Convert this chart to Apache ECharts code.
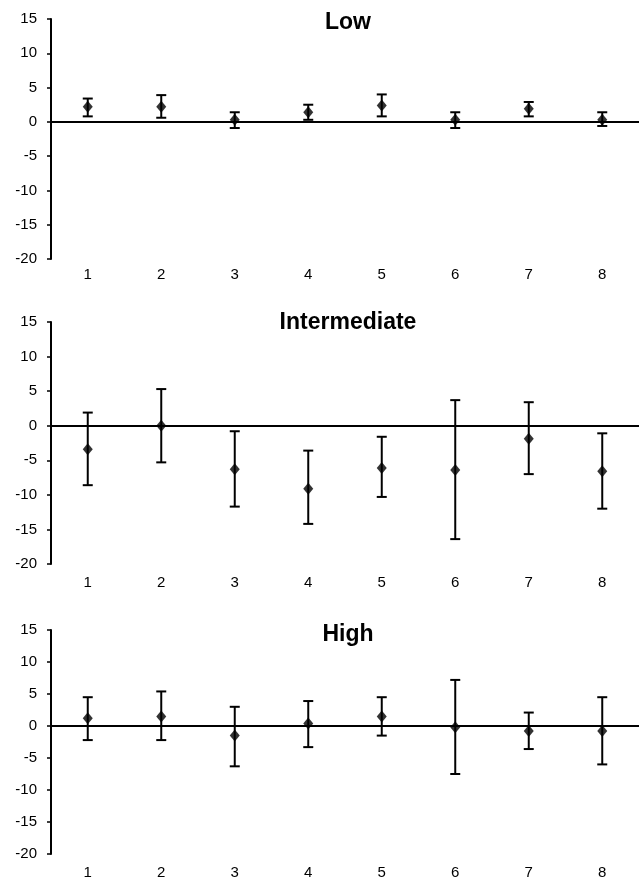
<!DOCTYPE html>
<html>
<head>
<meta charset="utf-8">
<script src="https://cdn.jsdelivr.net/npm/echarts@6/dist/echarts.min.js"></script>
<style>
  html, body { margin: 0; padding: 0; background: #fff; }
  #chart { width: 639px; height: 880px; }
</style>
</head>
<body>
<div id="chart"></div>
<script>
// categories and tick labels
const categories = ["1", "2", "3", "4", "5", "6", "7", "8"];
const panelTitles = ["Low", "Intermediate", "High"];

// Low
const lowMean = [2.2, 2.2, 0.3, 1.4, 2.4, 0.3, 1.9, 0.3];
const lowLower = [0.8, 0.6, -0.9, 0.3, 0.8, -0.9, 0.8, -0.6];
const lowUpper = [3.4, 3.9, 1.4, 2.5, 4.0, 1.4, 2.9, 1.4];

// Intermediate
const midMean = [-3.4, 0.0, -6.3, -9.1, -6.1, -6.4, -1.9, -6.6];
const midLower = [-8.6, -5.3, -11.7, -14.2, -10.3, -16.4, -7.0, -12.0];
const midUpper = [1.9, 5.3, -0.8, -3.6, -1.6, 3.7, 3.4, -1.1];

// High
const highMean = [1.2, 1.5, -1.5, 0.4, 1.5, -0.2, -0.8, -0.8];
const highLower = [-2.2, -2.2, -6.3, -3.3, -1.5, -7.5, -3.6, -6.0];
const highUpper = [4.5, 5.4, 3.0, 3.9, 4.5, 7.2, 2.1, 4.5];

const panels = [
  { mean: lowMean, lower: lowLower, upper: lowUpper, top: 19, height: 240, titleTop: 11 },
  { mean: midMean, lower: midLower, upper: midUpper, top: 322, height: 242, titleTop: 311 },
  { mean: highMean, lower: highLower, upper: highUpper, top: 630, height: 226, titleTop: 623 },
];

const font = "Liberation Sans";

function renderErrorBar(params, api) {
  const x = api.value(0);
  const lo = api.coord([x, api.value(1)]);
  const hi = api.coord([x, api.value(2)]);
  const cap = 5;
  const style = { stroke: "#000", lineWidth: 2 };
  return {
    type: "group",
    children: [
      { type: "line", shape: { x1: lo[0], y1: lo[1], x2: hi[0], y2: hi[1] }, style: style },
      { type: "line", shape: { x1: hi[0] - cap, y1: hi[1], x2: hi[0] + cap, y2: hi[1] }, style: style },
      { type: "line", shape: { x1: lo[0] - cap, y1: lo[1], x2: lo[0] + cap, y2: lo[1] }, style: style },
    ],
  };
}

const option = {
  animation: false,
  backgroundColor: "#fff",
  title: [],
  grid: [],
  xAxis: [],
  yAxis: [],
  series: [],
};

panels.forEach((p, i) => {
  option.title.push({
    text: panelTitles[i],
    left: 348,
    top: p.titleTop,
    textAlign: "center",
    padding: 0,
    textStyle: { fontFamily: font, fontSize: 23, fontWeight: "bold", color: "#000" },
  });
  option.grid.push({ left: 51, right: -4, top: p.top, height: p.height });
  option.xAxis.push({
    type: "category",
    gridIndex: i,
    data: categories,
    axisLine: { show: false, onZero: false },
    axisTick: { show: false },
    splitLine: { show: false },
    axisLabel: { margin: i === 0 ? 8 : 11, fontFamily: font, fontSize: 15, color: "#000" },
  });
  option.yAxis.push({
    type: "value",
    gridIndex: i,
    min: -20,
    max: 15,
    interval: 5,
    splitLine: { show: false },
    axisLine: { show: true, lineStyle: { color: "#000", width: 2 } },
    axisTick: { show: true, length: 4, lineStyle: { color: "#000", width: 1.5 } },
    axisLabel: { margin: 14, fontFamily: font, fontSize: 15, color: "#000" },
  });
  option.series.push({
    type: "custom",
    xAxisIndex: i,
    yAxisIndex: i,
    renderItem: renderErrorBar,
    data: categories.map((c, k) => [k, p.lower[k], p.upper[k]]),
    z: 3,
    markLine: {
      silent: true,
      symbol: ["none", "none"],
      label: { show: false },
      lineStyle: { color: "#000", width: 2, type: "solid" },
      data: [{ yAxis: 0 }],
    },
  });
  option.series.push({
    type: "scatter",
    xAxisIndex: i,
    yAxisIndex: i,
    symbol: "diamond",
    symbolSize: [10, 12],
    itemStyle: { color: "#000" },
    data: p.mean,
    z: 4,
  });
});

const chart = echarts.init(document.getElementById("chart"));
chart.setOption(option);
</script>
</body>
</html>
